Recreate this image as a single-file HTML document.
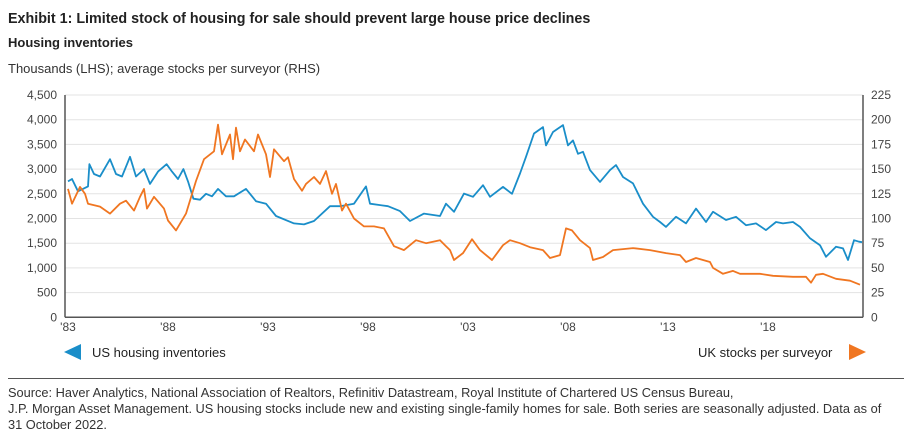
<!DOCTYPE html>
<html><head><meta charset="utf-8">
<style>
body{margin:0;width:912px;height:448px;background:#fff;font-family:"Liberation Sans",sans-serif;color:#222;overflow:hidden;position:relative}
.t{position:absolute;white-space:nowrap}
</style></head><body>
<div class="t" style="left:8px;top:11px;font-size:14.3px;font-weight:bold">Exhibit 1: Limited stock of housing for sale should prevent large house price declines</div>
<div class="t" style="left:8px;top:35px;font-size:13px;font-weight:bold">Housing inventories</div>
<div class="t" style="left:8px;top:61px;font-size:13px;color:#333">Thousands (LHS); average stocks per surveyor (RHS)</div>
<svg id="chart" width="912" height="448" style="position:absolute;left:0;top:0"></svg>
<div class="t" style="left:92px;top:345px;font-size:13px">US housing inventories</div>
<div class="t" style="left:698px;top:345px;font-size:13px">UK stocks per surveyor</div>
<div style="position:absolute;left:8px;top:378px;width:896px;height:1px;background:#555"></div>
<div class="t" style="left:8px;top:385px;font-size:12.8px;line-height:16px;color:#333">Source: Haver Analytics, National Association of Realtors, Refinitiv Datastream, Royal Institute of Chartered US Census Bureau,<br>J.P. Morgan Asset Management. US housing stocks include new and existing single-family homes for sale. Both series are seasonally adjusted. Data as of<br>31 October 2022.</div>
<script>
const yTicksL=["0","500","1,000","1,500","2,000","2,500","3,000","3,500","4,000","4,500"];
const yTicksR=["0","25","50","75","100","125","150","175","200","225"];
const xTickYears=[1983,1988,1993,1998,2003,2008,2013,2018];
const xTickLabels=["'83","'88","'93","'98","'03","'08","'13","'18"];
const usYears=[1983,1983.2,1983.5,1984,1984.07,1984.3,1984.6,1985.1,1985.4,1985.7,1986.1,1986.4,1986.8,1987.1,1987.5,1987.93,1988.2,1988.5,1988.77,1989,1989.27,1989.6,1989.9,1990.2,1990.5,1990.9,1991.3,1991.9,1992.4,1992.9,1993.4,1994.3,1994.8,1995.3,1996.1,1996.6,1997.3,1997.9,1998.1,1999,1999.6,2000.1,2000.8,2001.6,2001.9,2002.3,2002.8,2003.25,2003.75,2004.1,2004.75,2005.2,2005.6,2005.9,2006.3,2006.75,2006.9,2007.25,2007.75,2008,2008.25,2008.5,2008.75,2009.1,2009.6,2010.1,2010.4,2010.75,2011.25,2011.75,2012.25,2012.6,2012.9,2013.4,2013.9,2014.4,2014.9,2015.25,2015.9,2016.4,2016.9,2017.4,2017.9,2018.4,2018.75,2019.25,2019.6,2020.1,2020.6,2020.9,2021.4,2021.75,2022,2022.3,2022.55,2022.7];
const usValues=[2750,2800,2550,2650,3100,2900,2850,3200,2900,2850,3250,2850,3000,2700,2950,3100,2950,2800,3000,2750,2400,2380,2500,2450,2600,2450,2450,2600,2350,2300,2050,1900,1880,1950,2250,2250,2300,2650,2300,2250,2150,1950,2100,2050,2300,2135,2505,2440,2675,2440,2640,2500,2910,3250,3720,3850,3480,3750,3890,3480,3580,3310,3350,2980,2740,2980,3080,2840,2710,2300,2035,1930,1830,2035,1900,2200,1930,2135,1970,2035,1865,1900,1765,1930,1900,1930,1830,1600,1460,1225,1430,1395,1160,1560,1530,1520];
const ukYears=[1983,1983.2,1983.6,1983.85,1984,1984.6,1985.1,1985.6,1985.9,1986.3,1986.6,1986.8,1986.95,1987.3,1987.8,1988,1988.4,1988.9,1989.4,1989.8,1990.3,1990.5,1990.7,1991.1,1991.25,1991.4,1991.6,1991.85,1992.3,1992.5,1992.9,1993.1,1993.3,1993.8,1994,1994.3,1994.7,1994.9,1995.3,1995.6,1995.9,1996.2,1996.4,1996.7,1996.9,1997.3,1997.8,1998.3,1998.8,1999.3,1999.8,2000.4,2000.9,2001.6,2001.9,2002.1,2002.3,2002.75,2003.2,2003.6,2004.2,2004.75,2005.1,2005.6,2006.1,2006.75,2007.1,2007.6,2007.9,2008.2,2008.6,2009.1,2009.25,2009.75,2010.25,2011.25,2012.1,2012.9,2013.6,2013.9,2014.4,2015.1,2015.25,2015.75,2016.25,2016.6,2017.6,2018.25,2019.25,2019.9,2020.15,2020.4,2020.75,2021.4,2022.1,2022.6];
const ukValues=[130,115,132,125,115,112,105,115,118,108,122,130,110,122,110,98,88,105,138,160,168,195,165,185,160,192,168,180,168,185,165,142,170,158,162,140,128,135,142,135,148,125,135,108,115,100,92,92,90,72,68,78,75,78,72,68,58,65,79,68,58,73,78,75,71,68,60,63,90,88,78,70,58,61,68,70,68,65,63,56,60,56,50,44,47,44,44,42,41,41,35,43,44,39,37,33];

const svg=document.getElementById('chart');
const NS='http://www.w3.org/2000/svg';
const X0=65,X1=863,YT=95,YB=317.3;
function xs(yr){return 68+(yr-1983)*20;}
function yl(v){return YB-v/4500*(YB-YT);}
function yr(v){return YB-v/225*(YB-YT);}
function mk(tag,attrs){const e=document.createElementNS(NS,tag);for(const k in attrs)e.setAttribute(k,attrs[k]);svg.appendChild(e);return e;}
yTicksL.forEach((lab,i)=>{
  const y=yl(i*500);
  if(i>0){const g=mk('line',{x1:X0,x2:X1,y1:y,y2:y,stroke:'#e3e3e3','stroke-width':1});
  
  }
  const t=mk('text',{x:57,y:y+4,'text-anchor':'end','font-size':12,fill:'#444','font-family':'Liberation Sans'});
  t.textContent=lab;
  
  
  const t2=mk('text',{x:871,y:y+4,'text-anchor':'start','font-size':12,fill:'#444','font-family':'Liberation Sans'});
  t2.textContent=yTicksR[i];
  
  
});
xTickYears.forEach((yv,i)=>{
  const t=mk('text',{x:xs(yv),y:331,'text-anchor':'middle','font-size':12,fill:'#444','font-family':'Liberation Sans'});
  t.textContent=xTickLabels[i];
  
  
});
function line(xsArr,vals,f,col,name){
  const d=xsArr.map((yv,i)=>(i?'L':'M')+xs(yv).toFixed(1)+','+f(vals[i]).toFixed(1)).join('');
  const p=mk('path',{d:d,fill:'none',stroke:col,'stroke-width':1.8,'stroke-linejoin':'round'});
  
  
}
line(usYears,usValues,yl,'#1a8ec9','us-inventories-line');
line(ukYears,ukValues,yr,'#f07621','uk-stocks-line');
const a1=mk('line',{x1:X0,x2:X0,y1:YT,y2:YB,stroke:'#555','stroke-width':1.5});


const a2=mk('line',{x1:X1,x2:X1,y1:YT,y2:YB,stroke:'#555','stroke-width':1.5});


const a3=mk('line',{x1:X0,x2:X1,y1:YB,y2:YB,stroke:'#555','stroke-width':1.5});


const m1=mk('polygon',{points:'64,352 81,344 81,360',fill:'#1a8ec9'});


const m2=mk('polygon',{points:'866,352 849,344 849,360',fill:'#f07621'});


</script>
</body></html>
